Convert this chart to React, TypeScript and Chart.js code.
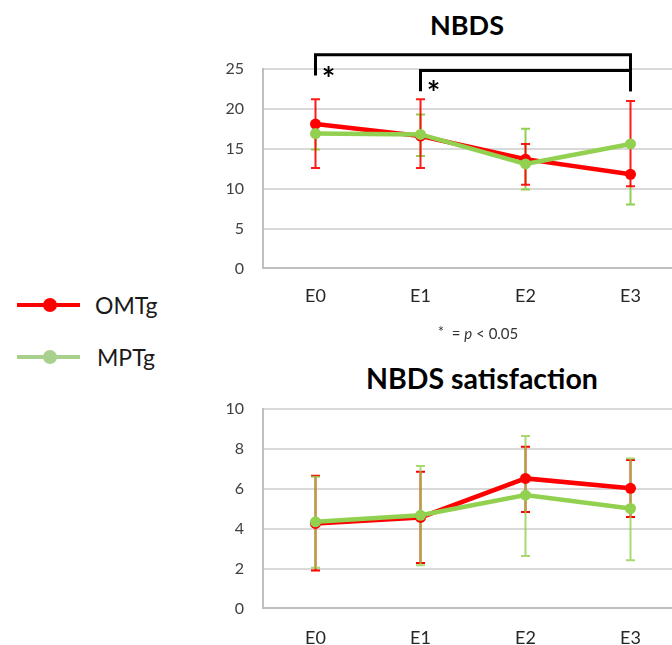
import React, { useEffect, useRef } from "react";
import { Chart, registerables } from "chart.js";

Chart.register(...registerables);

const categories = ["E0", "E1", "E2", "E3"];

// NBDS
const nbdsOMTg = [18.1, 16.6, 13.7, 11.8];
const nbdsOMTgHi = [21.2, 21.2, 15.6, 21.0];
const nbdsOMTgLo = [12.6, 12.6, 10.5, 10.3];
const nbdsMPTg = [16.9, 16.8, 13.1, 15.6];
const nbdsMPTgHi = [null, 19.3, 17.5, null];
const nbdsMPTgLo = [14.9, 14.1, 9.9, 8.0];
const nbdsTicks = { min: 0, max: 25, step: 5 };

// NBDS satisfaction
const satOMTg = [4.26, 4.56, 6.52, 6.02];
const satOMTgHi = [6.65, 6.85, 8.11, 7.44];
const satOMTgLo = [1.9, 2.28, 4.84, 4.59];
const satMPTg = [4.34, 4.67, 5.68, 5.01];
const satMPTgHi = [6.6, 7.14, 8.64, 7.52];
const satMPTgLo = [2.04, 2.16, 2.63, 2.41];
const satTicks = { min: 0, max: 10, step: 2 };

// significance brackets on NBDS: [fromIndex, toIndex, barLevel, leftLegEnd, rightLegEnd]
const sigBrackets = [
  [0, 3, 26.8, 24.2, 22.2],
  [1, 3, 24.8, 22.2, 22.2],
];
const sigStarLevel = [24.5, 22.8];

const RED = "#ff0000";
const GREEN = "#92d050";
const LEGEND_GREEN = "#a9d18e";
const FONT = "Lato, 'Open Sans', sans-serif";

type ErrSpec = { hi: (number | null)[]; lo: (number | null)[]; color: string; alpha: number };

function errorBarPlugin(errs: ErrSpec[]) {
  return {
    id: "errbars",
    beforeDatasetsDraw(chart: any) {
      const { ctx, scales } = chart;
      const xs = scales.x;
      const ys = scales.y;
      ctx.save();
      errs.forEach((e) => {
        ctx.strokeStyle = e.color;
        ctx.globalAlpha = e.alpha;
        ctx.lineWidth = 2;
        categories.forEach((_, i) => {
          const x = xs.getPixelForValue(i);
          const hi = e.hi[i];
          const lo = e.lo[i];
          const cap = 4.5;
          ctx.beginPath();
          const top = hi != null ? ys.getPixelForValue(hi) : null;
          const bot = lo != null ? ys.getPixelForValue(lo) : null;
          if (top != null && bot != null) {
            ctx.moveTo(x, top);
            ctx.lineTo(x, bot);
          } else if (bot != null) {
            ctx.moveTo(x, bot);
            ctx.lineTo(x, bot - 20);
          } else if (top != null) {
            ctx.moveTo(x, top);
            ctx.lineTo(x, top + 20);
          }
          if (top != null) {
            ctx.moveTo(x - cap, top);
            ctx.lineTo(x + cap, top);
          }
          if (bot != null) {
            ctx.moveTo(x - cap, bot);
            ctx.lineTo(x + cap, bot);
          }
          ctx.stroke();
        });
      });
      ctx.restore();
    },
  };
}

const bracketPlugin = {
  id: "brackets",
  afterDatasetsDraw(chart: any) {
    const { ctx, scales } = chart;
    const xs = scales.x;
    const ys = scales.y;
    ctx.save();
    ctx.strokeStyle = "#000";
    ctx.lineWidth = 3;
    ctx.lineJoin = "miter";
    sigBrackets.forEach((b, k) => {
      const [a, c, lvl, leftEnd, rightEnd] = b;
      const x1 = xs.getPixelForValue(a);
      const x2 = xs.getPixelForValue(c);
      const y = ys.getPixelForValue(lvl);
      ctx.beginPath();
      ctx.moveTo(x1, ys.getPixelForValue(leftEnd));
      ctx.lineTo(x1, y);
      ctx.lineTo(x2, y);
      ctx.lineTo(x2, ys.getPixelForValue(rightEnd));
      ctx.stroke();
      ctx.fillStyle = "#000";
      ctx.font = `bold 32px ${FONT}`;
      ctx.textAlign = "center";
      ctx.textBaseline = "middle";
      ctx.fillText("*", x1 + 13, ys.getPixelForValue(sigStarLevel[k]) + 8);
    });
    ctx.restore();
  },
};

function makeConfig(
  omtg: number[],
  mptg: number[],
  ticks: { min: number; max: number; step: number },
  errs: ErrSpec[],
  padding: any,
  xPad: number,
  extraPlugins: any[]
): any {
  return {
    type: "line",
    data: {
      labels: categories,
      datasets: [
        {
          label: "OMTg",
          data: omtg,
          borderColor: RED,
          backgroundColor: RED,
          pointBackgroundColor: RED,
          borderWidth: 4.5,
          pointRadius: 5.5,
          pointBorderWidth: 0,
          order: 1,
        },
        {
          label: "MPTg",
          data: mptg,
          borderColor: GREEN,
          backgroundColor: GREEN,
          pointBackgroundColor: GREEN,
          borderWidth: 4.5,
          pointRadius: 5.5,
          pointBorderWidth: 0,
          order: 0,
        },
      ],
    },
    options: {
      animation: false,
      responsive: false,
      maintainAspectRatio: false,
      layout: { padding },
      plugins: { legend: { display: false }, tooltip: { enabled: false }, title: { display: false } },
      scales: {
        x: {
          type: "category",
          offset: true,
          grid: { display: false, drawTicks: false },
          border: { display: true, color: "#bfbfbf", width: 2 },
          ticks: { color: "#262626", font: { family: FONT, size: 18 }, padding: xPad },
        },
        y: {
          min: ticks.min,
          max: ticks.max,
          afterFit(scale: any) {
            scale.width = 63;
          },
          ticks: {
            stepSize: ticks.step,
            color: "#404040",
            font: { family: FONT, size: 16 },
            padding: 19,
          },
          grid: { color: "#d9d9d9", lineWidth: 2, drawTicks: false },
          border: { display: true, color: "#bfbfbf", width: 2 },
        },
      },
    },
    plugins: [errorBarPlugin(errs), ...extraPlugins],
  };
}

function ChartCanvas({ config, style, width, height }: any) {
  const ref = useRef<HTMLCanvasElement | null>(null);
  useEffect(() => {
    if (!ref.current) return;
    const chart = new Chart(ref.current, config);
    return () => chart.destroy();
  }, []);
  return <canvas ref={ref} width={width} height={height} style={{ position: "absolute", ...style, width, height }} />;
}

export default function App() {
  const topConfig = makeConfig(
    nbdsOMTg,
    nbdsMPTg,
    nbdsTicks,
    [
      { hi: nbdsMPTgHi, lo: nbdsMPTgLo, color: GREEN, alpha: 1 },
      { hi: nbdsOMTgHi, lo: nbdsOMTgLo, color: RED, alpha: 0.9 },
    ],
    { top: 69, right: 17, bottom: 16, left: 0 },
    17,
    [bracketPlugin]
  );
  const bottomConfig = makeConfig(
    satOMTg,
    satMPTg,
    satTicks,
    [
      { hi: satOMTgHi, lo: satOMTgLo, color: RED, alpha: 1 },
      { hi: satMPTgHi, lo: satMPTgLo, color: GREEN, alpha: 0.8 },
    ],
    { top: 29, right: 17, bottom: 2, left: 0 },
    19,
    []
  );

  const text: React.CSSProperties = { position: "absolute", fontFamily: FONT, whiteSpace: "nowrap" };

  return (
    <div
      style={{
        position: "fixed",
        left: 0,
        top: 0,
        width: 672,
        height: 645,
        overflow: "hidden",
        background: "#fff",
        fontFamily: FONT,
      }}
    >
      <div style={{ ...text, left: 367, width: 200, top: 8, textAlign: "center", fontWeight: 700, fontSize: 27, color: "#000", lineHeight: "34px" }}>
        NBDS
      </div>
      <div style={{ ...text, left: 332, width: 300, top: 361, textAlign: "center", fontWeight: 700, fontSize: 28.5, color: "#000", lineHeight: "34px" }}>
        NBDS satisfaction
      </div>
      <ChartCanvas config={topConfig} width={500} height={340} style={{ left: 200, top: 0 }} />
      <ChartCanvas config={bottomConfig} width={500} height={290} style={{ left: 200, top: 380 }} />
      <div style={{ ...text, left: 378, width: 200, top: 323, textAlign: "center", fontSize: 15, color: "#333", lineHeight: "20px" }}>
        <span style={{ position: "relative", top: -2 }}>*</span> &nbsp;= <i>p</i> &lt; 0.05
      </div>

      {/* legend */}
      <div style={{ position: "absolute", left: 17, top: 303, width: 63, height: 4, background: RED }} />
      <div style={{ position: "absolute", left: 43, top: 298, width: 14, height: 14, borderRadius: 7, background: RED }} />
      <div style={{ ...text, left: 95, top: 291, fontSize: 23, color: "#1a1a1a", lineHeight: "28px" }}>OMTg</div>
      <div style={{ position: "absolute", left: 17, top: 355, width: 63, height: 4, background: LEGEND_GREEN }} />
      <div style={{ position: "absolute", left: 43, top: 350, width: 14, height: 14, borderRadius: 7, background: LEGEND_GREEN }} />
      <div style={{ ...text, left: 97, top: 343, fontSize: 23, color: "#1a1a1a", lineHeight: "28px" }}>MPTg</div>
    </div>
  );
}
